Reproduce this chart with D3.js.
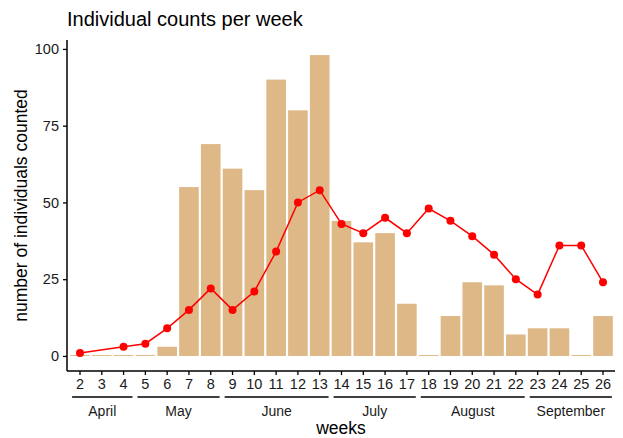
<!DOCTYPE html>
<html>
<head>
<meta charset="utf-8">
<script src="https://cdn.jsdelivr.net/npm/d3@7"></script>
<style>
  body { margin: 0; background: #fff; }
  text { font-family: "Liberation Sans", Arial, sans-serif; }
</style>
</head>
<body>
<div id="myChart"></div>
<script>
const weeks = [2, 3, 4, 5, 6, 7, 8, 9, 10, 11, 12, 13, 14, 15, 16, 17, 18, 19, 20, 21, 22, 23, 24, 25, 26];
const counts = [0.3, 0.3, 0.3, 0.3, 3, 55, 69, 61, 54, 90, 80, 98, 44, 37, 40, 17, 0.3, 13, 24, 23, 7, 9, 9, 0.3, 13];
const lineWeeks = [2, 4, 5, 6, 7, 8, 9, 10, 11, 12, 13, 14, 15, 16, 17, 18, 19, 20, 21, 22, 23, 24, 25, 26];
const lineValues = [1, 3, 4, 9, 15, 22, 15, 21, 34, 50, 54, 43, 40, 45, 40, 48, 44, 39, 33, 25, 20, 36, 36, 24];
const months = ["April", "May", "June", "July", "August", "September"];
const monthFirst = [2, 5, 9, 14, 18, 23];
const monthLast = [4, 8, 13, 17, 22, 26];
const yTicks = [0, 25, 50, 75, 100];

const W = 623, H = 438;
const panel = { left: 67, right: 615, top: 40, bottom: 371 };

const svg = d3.select("#myChart").append("svg")
  .attr("width", W).attr("height", H);

const x = d3.scaleBand()
  .domain(weeks)
  .range([panel.left + 1, panel.right])
  .padding(0.1);

const y = d3.scaleLinear()
  .domain([-4.9, 102.9])
  .range([panel.bottom, panel.top]);

// bars
svg.selectAll(".bar")
  .data(weeks.map((w, i) => ({ w: w, v: counts[i] })))
  .enter()
  .append("rect")
  .attr("class", "bar")
  .attr("x", d => x(d.w))
  .attr("width", x.bandwidth())
  .attr("y", d => y(d.v))
  .attr("height", d => y(0) - y(d.v))
  .attr("fill", "#DEB887");

// line + points
const pts = lineWeeks.map((w, i) => ({ w: w, v: lineValues[i] }));
const line = d3.line()
  .x(d => x(d.w) + x.bandwidth() / 2)
  .y(d => y(d.v));

svg.append("path")
  .datum(pts)
  .attr("d", line)
  .attr("fill", "none")
  .attr("stroke", "red")
  .attr("stroke-width", 1.5);

svg.selectAll(".pt")
  .data(pts)
  .enter()
  .append("circle")
  .attr("class", "pt")
  .attr("cx", d => x(d.w) + x.bandwidth() / 2)
  .attr("cy", d => y(d.v))
  .attr("r", 4)
  .attr("fill", "red");

// y axis
const yAxis = svg.append("g")
  .attr("transform", "translate(" + panel.left + ",0)")
  .call(d3.axisLeft(y).tickValues(yTicks).tickSize(4).tickPadding(4));
yAxis.select(".domain").attr("d", "M0," + panel.top + "V" + panel.bottom).attr("stroke-width", 1.5);
yAxis.selectAll(".tick line").attr("stroke-width", 1.3);
yAxis.selectAll("text").style("font-size", "14.5px").attr("fill", "#1a1a1a");

// x axis
const xAxis = svg.append("g")
  .attr("transform", "translate(0," + panel.bottom + ")")
  .call(d3.axisBottom(x).tickSize(4).tickPadding(4));
xAxis.select(".domain").attr("d", "M" + panel.left + ",0H" + panel.right).attr("stroke-width", 1.5);
xAxis.selectAll(".tick line").attr("stroke-width", 1.3);
xAxis.selectAll("text").style("font-size", "14.5px").attr("fill", "#1a1a1a");

// month groups
const step = x.step();
months.forEach((m, i) => {
  const x0 = x(monthFirst[i]) + x.bandwidth() / 2 - step / 2 + 3;
  const x1 = x(monthLast[i]) + x.bandwidth() / 2 + step / 2 - 2;
  svg.append("line")
    .attr("x1", x0).attr("x2", x1)
    .attr("y1", 397).attr("y2", 397)
    .attr("stroke", "#000").attr("stroke-width", 1.5);
  svg.append("text")
    .attr("x", (x0 + x1) / 2)
    .attr("y", 416)
    .attr("text-anchor", "middle")
    .style("font-size", "14px")
    .attr("fill", "#1a1a1a")
    .text(m);
});

// titles
svg.append("text")
  .attr("x", panel.left)
  .attr("y", 26)
  .style("font-size", "20px")
  .text("Individual counts per week");

svg.append("text")
  .attr("x", (panel.left + panel.right) / 2)
  .attr("y", 434)
  .attr("text-anchor", "middle")
  .style("font-size", "17.5px")
  .text("weeks");

svg.append("text")
  .attr("transform", "rotate(-90)")
  .attr("x", -(panel.top + panel.bottom) / 2)
  .attr("y", 27)
  .attr("text-anchor", "middle")
  .style("font-size", "17.5px")
  .text("number of individuals counted");
</script>
</body>
</html>
